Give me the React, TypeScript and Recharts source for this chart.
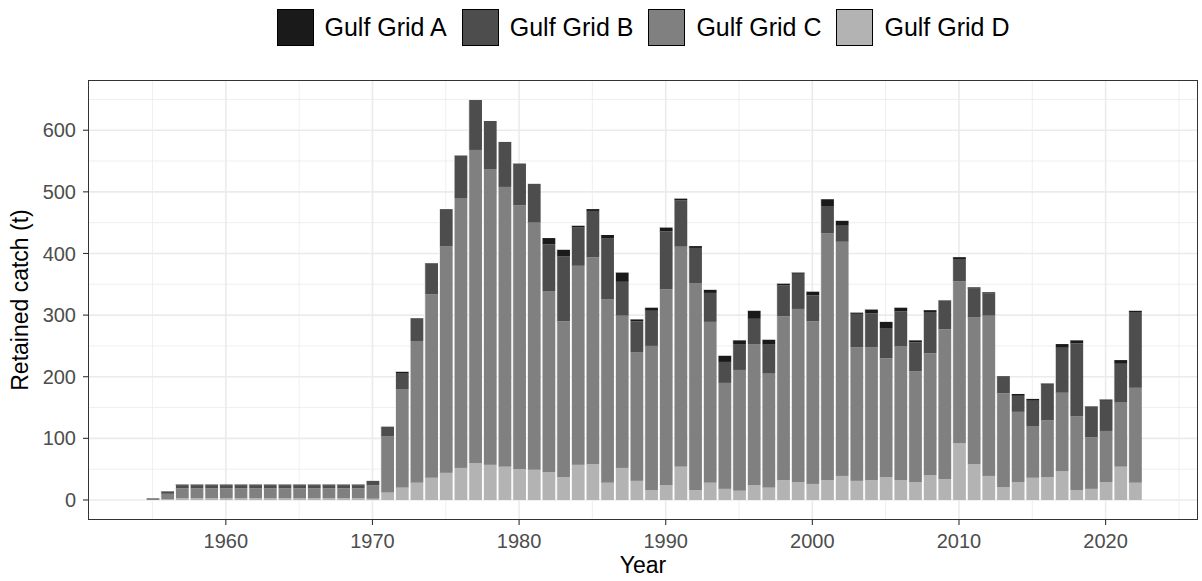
import React from 'react'
import { BarChart, Bar, XAxis, YAxis, CartesianGrid } from 'recharts'

// fishing years shown on the x axis
const years = [
  1955, 1956, 1957, 1958, 1959, 1960, 1961, 1962, 1963, 1964, 1965, 1966, 1967, 1968, 1969,
  1970, 1971, 1972, 1973, 1974, 1975, 1976, 1977, 1978, 1979, 1980, 1981, 1982, 1983, 1984,
  1985, 1986, 1987, 1988, 1989, 1990, 1991, 1992, 1993, 1994, 1995, 1996, 1997, 1998, 1999,
  2000, 2001, 2002, 2003, 2004, 2005, 2006, 2007, 2008, 2009, 2010, 2011, 2012, 2013, 2014,
  2015, 2016, 2017, 2018, 2019, 2020, 2021, 2022,
]

// retained catch (t) by grid
const gridA = [
  0, 0, 1, 1, 1, 1, 1, 1, 1, 1, 1, 1, 1, 1, 1,
  0, 0, 2, 0, 1, 0, 0, 0, 0, 0, 0, 0, 10, 11, 3,
  3, 5, 15, 3, 5, 6, 3, 3, 5, 10, 6, 13, 8, 3, 2,
  6, 11, 8, 2, 6, 10, 6, 3, 3, 0, 3, 2, 2, 0, 3,
  3, 2, 6, 5, 0, 2, 6, 2,
]
const gridB = [
  0, 4, 5, 5, 5, 5, 5, 5, 5, 5, 5, 5, 5, 5, 5,
  7, 16, 26, 37, 49, 60, 69, 81, 78, 73, 68, 63, 76, 105, 62,
  75, 99, 55, 50, 57, 94, 75, 57, 47, 34, 42, 41, 47, 50, 57,
  42, 44, 26, 54, 55, 49, 57, 47, 67, 47, 36, 47, 36, 28, 26,
  41, 58, 73, 118, 50, 49, 63, 123,
]
const gridC = [
  3, 9, 16, 16, 16, 16, 16, 16, 16, 16, 16, 16, 16, 16, 16,
  22, 91, 160, 230, 298, 368, 438, 508, 480, 454, 428, 401, 294, 253, 323,
  336, 298, 247, 209, 234, 318, 357, 336, 261, 172, 196, 229, 185, 266, 281,
  264, 401, 380, 217, 216, 193, 217, 180, 198, 243, 263, 238, 260, 152, 114,
  84, 92, 127, 120, 84, 83, 104, 154,
]
const gridD = [
  0, 1, 3, 3, 3, 3, 3, 3, 3, 3, 3, 3, 3, 3, 3,
  2, 12, 20, 28, 36, 44, 52, 60, 57, 54, 50, 49, 45, 37, 57,
  58, 28, 52, 31, 16, 24, 54, 16, 28, 18, 15, 24, 20, 32, 29,
  26, 32, 39, 31, 32, 37, 32, 29, 40, 34, 92, 58, 39, 21, 29,
  36, 37, 47, 16, 18, 29, 54, 28,
]

const yTicks = [0, 100, 200, 300, 400, 500, 600]
const yMinor = [50, 150, 250, 350, 450, 550, 650]
const xTicks = [1960, 1970, 1980, 1990, 2000, 2010, 2020]
const xMinor = [1955, 1965, 1975, 1985, 1995, 2005, 2015, 2025]

const series = [
  { key: 'A', name: 'Gulf Grid A', color: '#1a1a1a' },
  { key: 'B', name: 'Gulf Grid B', color: '#4d4d4d' },
  { key: 'C', name: 'Gulf Grid C', color: '#808080' },
  { key: 'D', name: 'Gulf Grid D', color: '#b3b3b3' },
]

const data = years.map((year, i) => ({
  year,
  A: gridA[i],
  B: gridB[i],
  C: gridC[i],
  D: gridD[i],
}))

const FONT = '"Liberation Sans", Arial, sans-serif'
const W = 1202
const H = 581
const X_DOMAIN: [number, number] = [1950.6, 2026.3]
const PLOT_W = 1110

// bar with a thin white seam on its left edge (like the ggplot outline)
const SeamBar = (props: any) => {
  const { x, y, width, height, fill } = props
  if (!height || height <= 0) return null
  return (
    <g>
      <rect x={x} y={y} width={width} height={height} fill={fill} />
      <line x1={x} x2={x} y1={y} y2={y + height} stroke="#ffffff" strokeWidth={0.8} />
    </g>
  )
}

const LegendBox = () => (
  <div
    style={{
      position: 'absolute',
      top: 8,
      left: 88,
      width: PLOT_W,
      display: 'flex',
      justifyContent: 'center',
      alignItems: 'center',
      fontFamily: FONT,
    }}
  >
    {series.map((s, i) => (
      <div key={s.key} style={{ display: 'flex', alignItems: 'center', marginRight: i < 3 ? 15 : 0 }}>
        <div
          style={{
            width: 37,
            height: 37,
            background: s.color,
            border: '1px solid #000',
            boxSizing: 'border-box',
            marginRight: 11,
          }}
        />
        <span style={{ fontSize: 25, color: '#000', lineHeight: '38px' }}>{s.name}</span>
      </div>
    ))}
  </div>
)

export default function App() {
  const barSize = PLOT_W / (X_DOMAIN[1] - X_DOMAIN[0])
  return (
    <div style={{ position: 'absolute', left: 0, top: 0, width: W, height: H, background: '#fff', fontFamily: FONT }}>
      <BarChart
        width={W}
        height={H}
        data={data}
        margin={{ top: 80, right: 4, bottom: 21, left: 0 }}
        barCategoryGap={0}
        barGap={0}
      >
        <CartesianGrid
          horizontalValues={yMinor}
          verticalValues={xMinor}
          stroke="#ebebeb"
          strokeWidth={0.8}
          fill="none"
        />
        <CartesianGrid
          horizontalValues={yTicks}
          verticalValues={xTicks}
          stroke="#ebebeb"
          strokeWidth={1.6}
          fill="none"
        />
        <XAxis
          dataKey="year"
          type="number"
          domain={X_DOMAIN}
          allowDataOverflow
          ticks={xTicks}
          height={40}
          axisLine={false}
          tickLine={{ stroke: '#333333', strokeWidth: 1.1 }}
          tickSize={5}
          tickMargin={9}
          tick={{ fill: '#4d4d4d', fontSize: 20, fontFamily: FONT }}
        />
        <YAxis
          type="number"
          domain={[-32.5, 681.5]}
          allowDataOverflow
          ticks={yTicks}
          width={88}
          axisLine={false}
          tickLine={{ stroke: '#333333', strokeWidth: 1.1 }}
          tickSize={5}
          tickMargin={7}
          tick={{ fill: '#4d4d4d', fontSize: 20, fontFamily: FONT }}
        />
        {[...series].reverse().map((s) => (
          <Bar
            key={s.key}
            dataKey={s.key}
            name={s.name}
            stackId="catch"
            fill={s.color}
            barSize={barSize}
            shape={<SeamBar />}
            isAnimationActive={false}
          />
        ))}
      </BarChart>

      <LegendBox />

      {/* panel border */}
      <div
        style={{
          position: 'absolute',
          left: 88,
          top: 80,
          width: PLOT_W,
          height: 440,
          border: '1.1px solid #333333',
          boxSizing: 'border-box',
          pointerEvents: 'none',
        }}
      />

      <div
        style={{
          position: 'absolute',
          left: 88,
          top: 554,
          width: PLOT_W,
          textAlign: 'center',
          fontSize: 23,
          lineHeight: '23px',
          color: '#000',
        }}
      >
        Year
      </div>
      <div
        style={{
          position: 'absolute',
          left: 20,
          top: 300,
          transform: 'translate(-50%, -50%) rotate(-90deg)',
          fontSize: 23,
          lineHeight: '23px',
          whiteSpace: 'nowrap',
          color: '#000',
        }}
      >
        Retained catch (t)
      </div>
    </div>
  )
}
